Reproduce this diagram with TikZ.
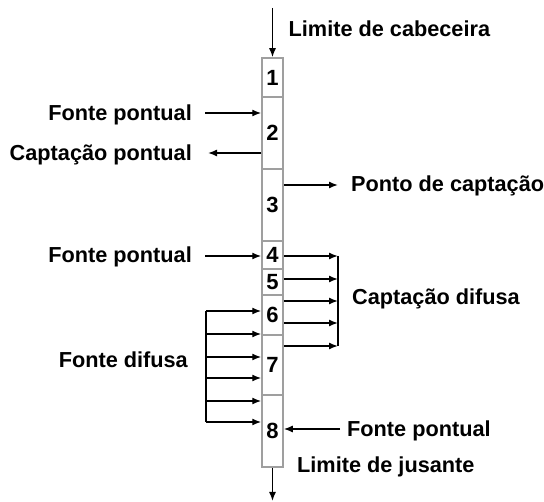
\documentclass[tikz,border=0pt]{standalone}
\usepackage{fontspec}
\setmainfont{Liberation Sans}
\usetikzlibrary{arrows.meta}
\begin{document}
\begin{tikzpicture}[x=1pt,y=-1pt,
  seg/.style={draw=gray!75, line width=1.5pt, fill=white, minimum width=21pt, inner sep=0pt, font=\bfseries\fontsize{22}{26}\selectfont},
  lbl/.style={font=\bfseries\fontsize{21.7}{26}\selectfont, inner sep=0pt},
  arr/.style={line width=1.4pt, -{Latex[length=9pt,width=7pt]}},
  ln/.style={line width=1.4pt}]
\useasboundingbox (0,0) rectangle (544,502);
% column segments
\node[seg, minimum height=39pt] (s1) at (272.5,77.5) {1};
\node[seg, minimum height=72pt] (s2) at (272.5,133) {2};
\node[seg, minimum height=72pt] (s3) at (272.5,205) {3};
\node[seg, minimum height=28pt] (s4) at (272.5,255) {4};
\node[seg, minimum height=26pt] (s5) at (272.5,282) {5};
\node[seg, minimum height=40pt] (s6) at (272.5,315) {6};
\node[seg, minimum height=60pt] (s7) at (272.5,365) {7};
\node[seg, minimum height=72pt] (s8) at (272.5,431) {8};
% labels
\node[lbl, anchor=base west] (t1) at (288.5,37) {Limite de cabeceira};
\node[lbl, anchor=base east] (t2) at (192,121) {Fonte pontual};
\node[lbl, anchor=base east] (t3) at (192,161) {Captação pontual};
\node[lbl, anchor=base west] (t4) at (351,192) {Ponto de captação};
\node[lbl, anchor=base east] (t5) at (192,263) {Fonte pontual};
\node[lbl, anchor=base west] (t6) at (352,305) {Captação difusa};
\node[lbl, anchor=base east] (t7) at (188,368) {Fonte difusa};
\node[lbl, anchor=base west] (t8) at (347,437) {Fonte pontual};
\node[lbl, anchor=base west] (t9) at (297,473) {Limite de jusante};
% coordinates
\coordinate (top) at (272.5,8);
\coordinate (bot) at (272.5,501);
\coordinate (fp1) at (205,113);
\coordinate (cp1) at (208,153);
\coordinate (pc) at (338,185);
\coordinate (fp2) at (205,256);
\coordinate (fp3) at (340,429);
\coordinate (cd1) at (338,256);
\coordinate (cd2) at (338,279);
\coordinate (cd3) at (338,301);
\coordinate (cd4) at (338,323);
\coordinate (cd5) at (338,346);
\coordinate (fd1) at (206,311);
\coordinate (fd2) at (206,334);
\coordinate (fd3) at (206,357);
\coordinate (fd4) at (206,378);
\coordinate (fd5) at (206,401);
\coordinate (fd6) at (206,422);
% connectors
\draw[arr] (top) -- (s1.north);
\draw[arr] (s8.south) -- (bot);
\draw[arr] (fp1) -- (fp1 -| s2.west);
\draw[arr] (cp1 -| s2.west) -- (cp1);
\draw[arr] (pc -| s3.east) -- (pc);
\draw[arr] (fp2) -- (fp2 -| s4.west);
\draw[arr] (fp3) -- (fp3 -| s8.east);
\draw[ln] (cd1) -- (cd5);
\foreach \c in {cd1,cd2,cd3,cd4,cd5} \draw[arr] (\c -| s4.east) -- (\c);
\draw[ln] (fd1) -- (fd6);
\foreach \c in {fd1,fd2,fd3,fd4,fd5,fd6} \draw[arr] (\c) -- (\c -| s6.west);
\end{tikzpicture}
\end{document}
